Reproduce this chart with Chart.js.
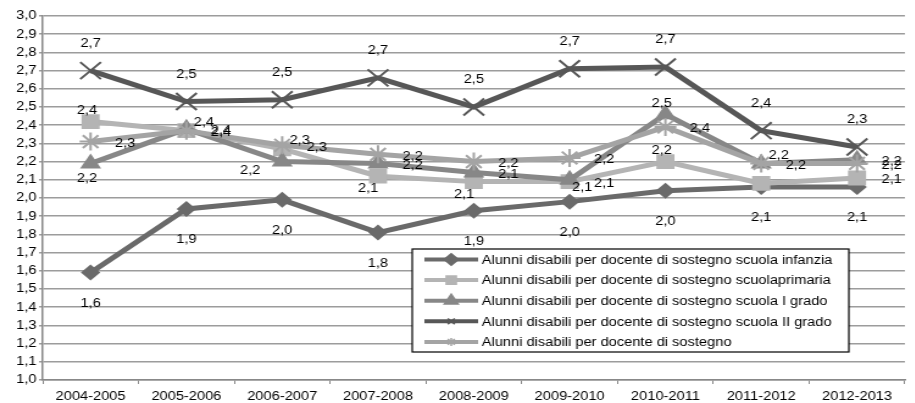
<!DOCTYPE html>
<html>
<head>
<meta charset="utf-8">
<script src="https://cdn.jsdelivr.net/npm/chart.js@4/dist/chart.umd.min.js"></script>
<style>
  html, body { margin: 0; padding: 0; background: #fff; overflow: hidden; }
  #graph { display: block; }
</style>
</head>
<body>
<!-- the original picture is stretched sideways, so the canvas is drawn narrow and widened by css -->
<canvas id="graph" width="756" height="403" style="width:922px;height:403px"></canvas>
<script>
const years = ["2004-2005", "2005-2006", "2006-2007", "2007-2008", "2008-2009",
               "2009-2010", "2010-2011", "2011-2012", "2012-2013"];

const infanzia     = [1.59, 1.94, 1.99, 1.81, 1.93, 1.98, 2.04, 2.06, 2.06];
const primaria     = [2.42, 2.37, 2.27, 2.12, 2.09, 2.09, 2.20, 2.08, 2.11];
const primoGrado   = [2.19, 2.38, 2.20, 2.19, 2.14, 2.10, 2.46, 2.19, 2.21];
const secondoGrado = [2.70, 2.53, 2.54, 2.66, 2.50, 2.71, 2.72, 2.37, 2.28];
const totale       = [2.31, 2.37, 2.29, 2.24, 2.20, 2.22, 2.39, 2.19, 2.19];

const seriesNames = [
  "Alunni disabili per docente di sostegno scuola infanzia",
  "Alunni disabili per docente di sostegno scuolaprimaria",
  "Alunni disabili per docente di sostegno scuola I grado",
  "Alunni disabili per docente di sostegno scuola II grado",
  "Alunni disabili per docente di sostegno"
];

// where each value label sits around its point
const ANCHORS = {
  a: [0, -27, "center"],   // above
  b: [0, 31, "center"],    // below
  t: [-3, -11, "center"],  // just above
  d: [-3, 15, "center"],   // just below
  u: [-8, 13, "center"],   // just below, left
  r: [20, 2, "left"],      // right
  n: [6, -8, "left"],      // above right
  v: [2, 8, "left"],       // below right
  l: [-18, 9, "right"]     // left
};
const posInfanzia   = ["b", "b", "b", "b", "b", "b", "b", "b", "b"];
const posPrimaria   = ["t", "n", "n", "u", "u", "r", "t", null, "r"];
const posPrimo      = ["d", "r", "l", "r", "r", "v", "t", "n", "r"];
const posSecondo    = ["a", "a", "a", "a", "a", "a", "a", "a", "a"];
const posTotale     = ["r", "r", "r", "r", "r", "r", "r", "r", "r"];

const FONT = '"Liberation Sans", Arial, sans-serif';
Chart.defaults.font.family = FONT;
Chart.defaults.font.size = 12;
Chart.defaults.color = "#000";

function fmt(v) {
  return v.toFixed(1).replace(".", ",");
}

function makeSet(i, data, color, style, radius, pos, filled) {
  return {
    label: seriesNames[i],
    data: data,
    labelPos: pos,
    borderColor: color,
    backgroundColor: color,
    borderWidth: 5,
    pointStyle: style,
    pointRadius: radius,
    pointBackgroundColor: filled ? color : "rgba(0,0,0,0)",
    pointBorderColor: color,
    pointBorderWidth: filled ? 0 : 2,
    tension: 0,
    fill: false,
    order: 5 - i
  };
}

// value labels next to the points
const valueLabels = {
  id: "valueLabels",
  afterDatasetsDraw(chart) {
    const ctx = chart.ctx;
    ctx.save();
    ctx.font = "12px " + FONT;
    ctx.fillStyle = "#000";
    ctx.textBaseline = "middle";
    chart.data.datasets.forEach((ds, i) => {
      const meta = chart.getDatasetMeta(i);
      meta.data.forEach((pt, j) => {
        const a = ANCHORS[ds.labelPos[j]];
        if (!a) return;
        ctx.textAlign = a[2];
        ctx.fillText(fmt(ds.data[j]), pt.x + a[0], pt.y + a[1]);
      });
    });
    ctx.restore();
  }
};

// boxed legend inside the plot area
const boxLegend = {
  id: "boxLegend",
  afterDraw(chart) {
    const ctx = chart.ctx;
    const area = chart.chartArea;
    const x = area.left + 303;
    const y = 249;
    const w = 358;
    const h = 103;
    ctx.save();
    ctx.fillStyle = "#fff";
    ctx.fillRect(x, y, w, h);
    ctx.strokeStyle = "#000";
    ctx.lineWidth = 1.2;
    ctx.strokeRect(x, y, w, h);
    ctx.font = "12px " + FONT;
    ctx.textBaseline = "middle";
    ctx.textAlign = "left";
    chart.data.datasets.forEach((ds, i) => {
      const cy = y + 10.5 + i * 20.6;
      ctx.strokeStyle = ds.borderColor;
      ctx.lineWidth = 4;
      ctx.beginPath();
      ctx.moveTo(x + 10, cy);
      ctx.lineTo(x + 54, cy);
      ctx.stroke();
      ctx.fillStyle = ds.pointBackgroundColor;
      ctx.strokeStyle = ds.pointBorderColor;
      ctx.lineWidth = ds.pointBorderWidth ? 1.5 : 0;
      Chart.helpers.drawPoint(ctx, {
        pointStyle: ds.pointStyle,
        radius: 4,
        rotation: 0,
        borderWidth: ctx.lineWidth
      }, x + 32, cy);
      ctx.fillStyle = "#000";
      ctx.fillText(ds.label, x + 57, cy + 1);
    });
    ctx.restore();
  }
};

new Chart(document.getElementById("graph"), {
  type: "line",
  data: {
    labels: years,
    datasets: [
      makeSet(0, infanzia, "#6a6a6a", "rectRot", 8, posInfanzia, true),
      makeSet(1, primaria, "#b4b4b4", "rect", 10.5, posPrimaria, true),
      makeSet(2, primoGrado, "#878787", "triangle", 10, posPrimo, true),
      makeSet(3, secondoGrado, "#575757", "crossRot", 12, posSecondo, false),
      makeSet(4, totale, "#a4a4a4", "star", 9, posTotale, false)
    ]
  },
  options: {
    responsive: false,
    animation: false,
    devicePixelRatio: 1,
    layout: { padding: { top: 16, right: 1, left: 0, bottom: 0 } },
    plugins: {
      legend: { display: false },
      tooltip: { enabled: false }
    },
    scales: {
      x: {
        offset: true,
        grid: { offset: true, drawOnChartArea: false, color: "#888", tickLength: 4 },
        border: { color: "#888", width: 1.5 },
        ticks: { padding: 5, maxRotation: 0, autoSkip: false },
        afterFit: (s) => { s.height = 23; }
      },
      y: {
        min: 1,
        max: 3,
        ticks: { stepSize: 0.1, padding: 2, callback: (v) => fmt(v) },
        grid: { color: "#9c9c9c", lineWidth: 1.6, tickLength: 3 },
        border: { color: "#888", width: 1.5 },
        afterFit: (s) => { s.width = 35; }
      }
    }
  },
  plugins: [valueLabels, boxLegend]
});
</script>
</body>
</html>
